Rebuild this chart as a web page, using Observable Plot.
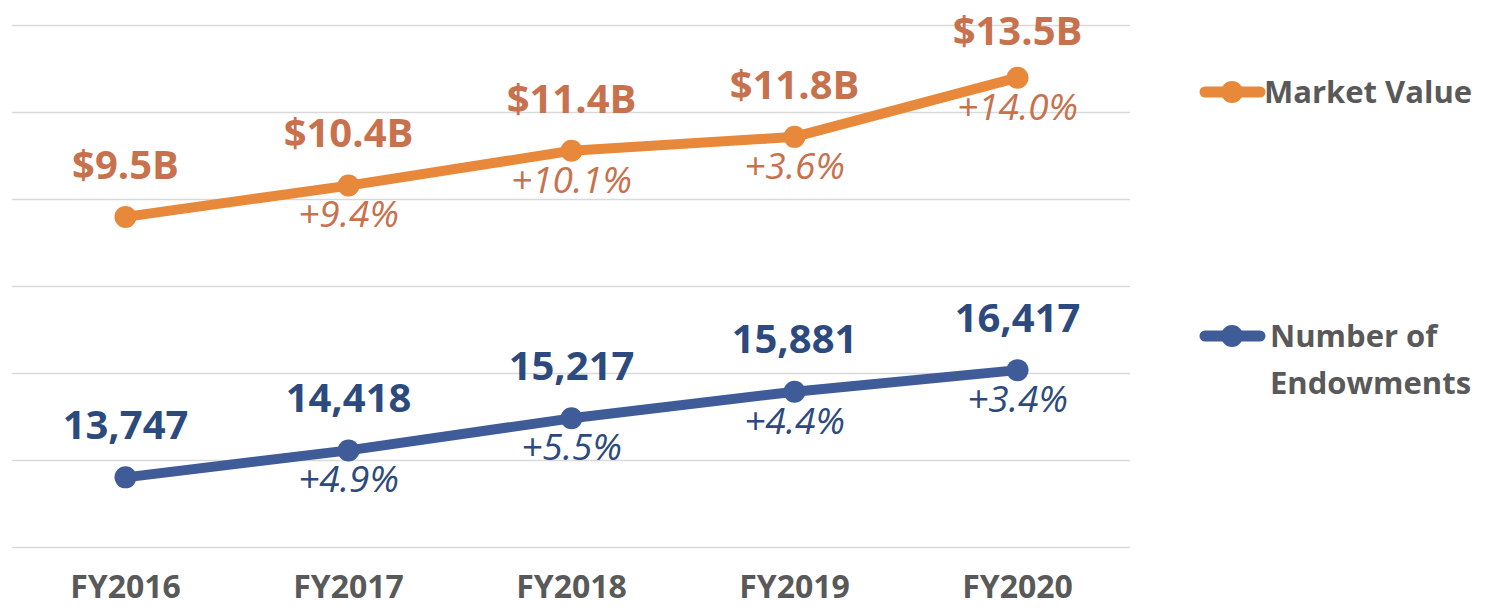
<!DOCTYPE html>
<html>
<head>
<meta charset="utf-8">
<script src="https://cdn.jsdelivr.net/npm/d3@7"></script>
<script src="https://cdn.jsdelivr.net/npm/@observablehq/plot@0.6"></script>
<style>
  html, body { margin: 0; padding: 0; background: #fff; }
  #wrap { position: relative; width: 1496px; height: 613px; font-family: "Open Sans", sans-serif; }
  .leg { position: absolute; font-weight: bold; font-size: 31px; color: #595959; line-height: 47px; white-space: nowrap; }
  .mk { position: absolute; }
</style>
</head>
<body>
<div id="wrap"></div>
<script>
const years = ["FY2016", "FY2017", "FY2018", "FY2019", "FY2020"];
const marketValue = [9.5, 10.4, 11.4, 11.8, 13.5];       // $ billions (primary axis 0–15)
const marketChange = [null, 9.4, 10.1, 3.6, 14.0];       // %
const endowments = [13747, 14418, 15217, 15881, 16417];  // count (secondary axis 12,000–25,000)
const endowChange = [null, 4.9, 5.5, 4.4, 3.4];          // %
const primaryTicks = [0, 2.5, 5, 7.5, 10, 12.5, 15];
const secondaryDomain = [12000, 25000];
const primaryDomain = [0, 15];

const orangeLine = "#E8883A", orangeText = "#C8714D";
const blueLine = "#3F5C99", blueText = "#2D4A7E";

// map secondary-axis values onto the primary axis
const toPrimary = v => primaryDomain[0] + (v - secondaryDomain[0]) / (secondaryDomain[1] - secondaryDomain[0]) * (primaryDomain[1] - primaryDomain[0]);

const mv = years.map((y, i) => ({i, year: y, v: marketValue[i], label: "$" + marketValue[i].toFixed(1) + "B", chg: marketChange[i]}));
const en = years.map((y, i) => ({i, year: y, v: toPrimary(endowments[i]), label: d3.format(",")(endowments[i]), chg: endowChange[i]}));
const pct = c => c == null ? "" : "+" + c.toFixed(1) + "%";
const last = years.length - 1;

const chart = Plot.plot({
  width: 1496,
  height: 613,
  marginLeft: 12,
  marginRight: 366,
  marginTop: 25,
  marginBottom: 66,
  style: {fontFamily: "'Open Sans', sans-serif", background: "#fff", overflow: "visible"},
  x: {type: "point", domain: years, padding: 0.5, axis: null},
  y: {domain: primaryDomain, axis: null},
  marks: [
    Plot.ruleY(primaryTicks, {stroke: "#D9D9D9", strokeWidth: 1.5}),
    Plot.line(mv, {x: "year", y: "v", stroke: orangeLine, strokeWidth: 10, strokeLinecap: "round", strokeLinejoin: "round"}),
    Plot.dot(mv, {x: "year", y: "v", r: 11, fill: orangeLine}),
    Plot.line(en, {x: "year", y: "v", stroke: blueLine, strokeWidth: 10, strokeLinecap: "round", strokeLinejoin: "round"}),
    Plot.dot(en, {x: "year", y: "v", r: 11, fill: blueLine}),
    Plot.text(mv.filter(d => d.i < last), {x: "year", y: "v", text: "label", dy: -51, fill: orangeText, fontSize: 40, fontWeight: "bold"}),
    Plot.text(mv.filter(d => d.i === last), {x: "year", y: "v", text: "label", dy: -46, fill: orangeText, fontSize: 40, fontWeight: "bold"}),
    Plot.text(mv, {x: "year", y: "v", text: d => pct(d.chg), dy: 30, fill: orangeText, fontSize: 37, fontStyle: "italic"}),
    Plot.text(en, {x: "year", y: "v", text: "label", dy: -51, fill: blueText, fontSize: 40, fontWeight: "bold"}),
    Plot.text(en, {x: "year", y: "v", text: d => pct(d.chg), dy: 30, fill: blueText, fontSize: 37, fontStyle: "italic"}),
    Plot.text(years, {x: d => d, frameAnchor: "bottom", dy: 50, fill: "#595959", fontSize: 32, fontWeight: "bold"})
  ]
});

const wrap = document.getElementById("wrap");
wrap.appendChild(chart);

function legendItem(color, lines, cy, textLeft) {
  const svgNS = "http://www.w3.org/2000/svg";
  const s = document.createElementNS(svgNS, "svg");
  s.setAttribute("class", "mk");
  s.setAttribute("width", 80);
  s.setAttribute("height", 30);
  s.style.left = "1195px";
  s.style.top = (cy - 15) + "px";
  const l = document.createElementNS(svgNS, "line");
  l.setAttribute("x1", 10); l.setAttribute("x2", 65); l.setAttribute("y1", 15); l.setAttribute("y2", 15);
  l.setAttribute("stroke", color); l.setAttribute("stroke-width", 11); l.setAttribute("stroke-linecap", "round");
  const c = document.createElementNS(svgNS, "circle");
  c.setAttribute("cx", 37); c.setAttribute("cy", 15); c.setAttribute("r", 11); c.setAttribute("fill", color);
  s.appendChild(l); s.appendChild(c);
  wrap.appendChild(s);
  const d = document.createElement("div");
  d.className = "leg";
  d.style.left = textLeft + "px";
  d.style.top = (cy - 24) + "px";
  d.innerHTML = lines.join("<br>");
  wrap.appendChild(d);
}
legendItem(orangeLine, ["Market Value"], 92, 1264);
legendItem(blueLine, ["Number of", "Endowments"], 336, 1270);
</script>
</body>
</html>
